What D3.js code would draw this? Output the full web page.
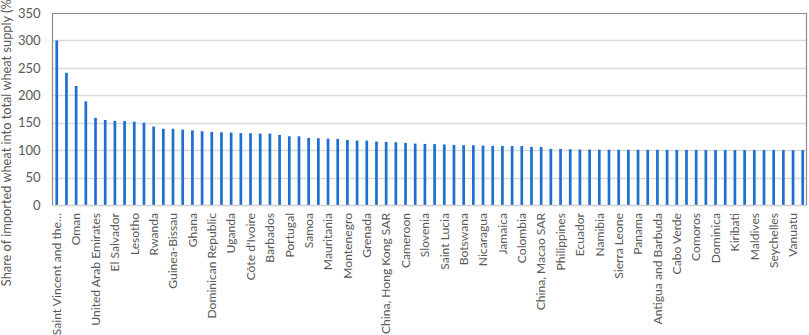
<!DOCTYPE html>
<html>
<head>
<meta charset="utf-8">
<script src="https://cdn.jsdelivr.net/npm/d3@7"></script>
<style>
  body { margin: 0; background: #fff; }
  svg { display: block; font-family: Lato, "Noto Sans", sans-serif; }
</style>
</head>
<body>
<div id="chart"></div>
<script>
// Countries (every other one is labelled on the axis)
const countries = [
  "Saint Vincent and the Grenadines", "Djibouti", "Oman", "Brunei Darussalam",
  "United Arab Emirates", "Kuwait", "El Salvador", "Eswatini",
  "Lesotho", "Mauritius", "Rwanda", "Honduras",
  "Guinea-Bissau", "Burkina Faso", "Ghana", "Fiji",
  "Dominican Republic", "Costa Rica", "Uganda", "Senegal",
  "Côte d'Ivoire", "Gabon", "Barbados", "Guatemala",
  "Portugal", "Sri Lanka", "Samoa", "Togo",
  "Mauritania", "Malta", "Montenegro", "Cyprus",
  "Grenada", "Belize", "China, Hong Kong SAR", "Benin",
  "Cameroon", "Jordan", "Slovenia", "Liberia",
  "Saint Lucia", "Gambia", "Botswana", "Mozambique",
  "Nicaragua", "Haiti", "Jamaica", "Venezuela",
  "Colombia", "Congo", "China, Macao SAR", "Suriname",
  "Philippines", "Malaysia", "Ecuador", "Peru",
  "Namibia", "Guinea", "Sierra Leone", "Bahamas",
  "Panama", "Trinidad and Tobago", "Antigua and Barbuda", "Sao Tome and Principe",
  "Cabo Verde", "Solomon Islands", "Comoros", "Indonesia",
  "Dominica", "Saint Kitts and Nevis", "Kiribati", "Tonga",
  "Maldives", "French Polynesia", "Seychelles", "New Caledonia",
  "Vanuatu", "Singapore"
];
const shortLabels = { "Saint Vincent and the Grenadines": "Saint Vincent and the\u2026" };

// Share of imported wheat into total wheat supply (%)
const shares = [
  300, 241, 217, 189, 159, 155, 153.5, 153, 152, 150,
  143, 139, 139, 137.5, 136, 134.5, 133.2, 132.6, 132, 131,
  130.8, 130.2, 130.2, 127.7, 125.3, 125.3, 122.3, 121.7, 121, 120.4,
  118.6, 117.4, 117.4, 115.6, 115, 114.4, 113.1, 111.9, 111.3, 111,
  110.3, 109.6, 109, 108.9, 108.3, 107.8, 107.7, 107.6, 107.5, 105.9,
  105.8, 102.4, 102.2, 101.7, 101.2, 101, 100.9, 100.8, 100.7, 100.6,
  100.6, 100.5, 100.5, 100.4, 100.4, 100.3, 100.3, 100.3, 100.2, 100.2,
  100.2, 100.1, 100.1, 100.1, 100.1, 100, 100, 100
];
const yTicks = [0, 50, 100, 150, 200, 250, 300, 350];
const yTitle = "Share of imported wheat into total wheat supply (%)";

const data = countries.map((c, i) => ({ country: c, value: shares[i] }));

const W = 809, H = 335;
const margin = { top: 13, right: 2, bottom: 130, left: 52.5 };
const plotRight = W - margin.right;
const plotBottom = H - margin.bottom;

const svg = d3.select("#chart").append("svg")
  .attr("width", W)
  .attr("height", H);

const x = d3.scaleBand()
  .domain(countries)
  .range([margin.left, plotRight])
  .paddingInner(0.72)
  .paddingOuter(0.3);

const y = d3.scaleLinear()
  .domain([0, 350])
  .range([plotBottom, margin.top]);

// gridlines
svg.append("g")
  .selectAll("line")
  .data(yTicks.filter(t => t > 0 && t < 350))
  .enter()
  .append("line")
  .attr("x1", margin.left)
  .attr("x2", plotRight)
  .attr("y1", d => Math.round(y(d)) + 0.5)
  .attr("y2", d => Math.round(y(d)) + 0.5)
  .attr("stroke", "#d9d9d9")
  .attr("stroke-width", 1.3);

// bars
svg.append("g")
  .selectAll("rect")
  .data(data)
  .enter()
  .append("rect")
  .attr("x", d => x(d.country))
  .attr("width", x.bandwidth())
  .attr("y", d => y(d.value))
  .attr("height", d => y(0) - y(d.value))
  .attr("fill", "#1f6fd0");

// plot frame
svg.append("line")
  .attr("x1", margin.left).attr("x2", plotRight)
  .attr("y1", plotBottom + 0.5).attr("y2", plotBottom + 0.5)
  .attr("stroke", "#d0d0d0").attr("stroke-width", 1.3);
svg.append("path")
  .attr("d", `M${margin.left},${plotBottom}V${margin.top + 0.5}H${plotRight - 0.5}V${plotBottom}`)
  .attr("fill", "none")
  .attr("stroke", "#8c8c8c")
  .attr("stroke-width", 1.2);

// y axis labels
const yAxis = svg.append("g")
  .attr("transform", `translate(${margin.left},0)`)
  .call(d3.axisLeft(y).tickValues(yTicks).tickSize(0).tickPadding(12));
yAxis.select(".domain").remove();
yAxis.selectAll("text")
  .attr("fill", "#595959")
  .style("font-size", "13px")
  .style("font-family", "Lato, sans-serif");

// x axis labels (every other category)
const xAxis = svg.append("g")
  .attr("transform", `translate(0,${plotBottom})`)
  .call(d3.axisBottom(x)
    .tickSize(0)
    .tickFormat((d, i) => i % 2 === 0 ? (shortLabels[d] || d) : ""));
xAxis.select(".domain").remove();
xAxis.selectAll("text")
  .attr("transform", "rotate(-90)")
  .attr("text-anchor", "end")
  .attr("x", -8)
  .attr("y", 0)
  .attr("dy", "0.35em")
  .attr("fill", "#595959")
  .style("font-size", "12.1px")
  .style("font-family", "Lato, sans-serif");

// y axis title
svg.append("text")
  .attr("transform", `translate(11,141) rotate(-90)`)
  .attr("text-anchor", "middle")
  .attr("fill", "#595959")
  .style("font-size", "12.8px")
  .text(yTitle);
</script>
</body>
</html>
